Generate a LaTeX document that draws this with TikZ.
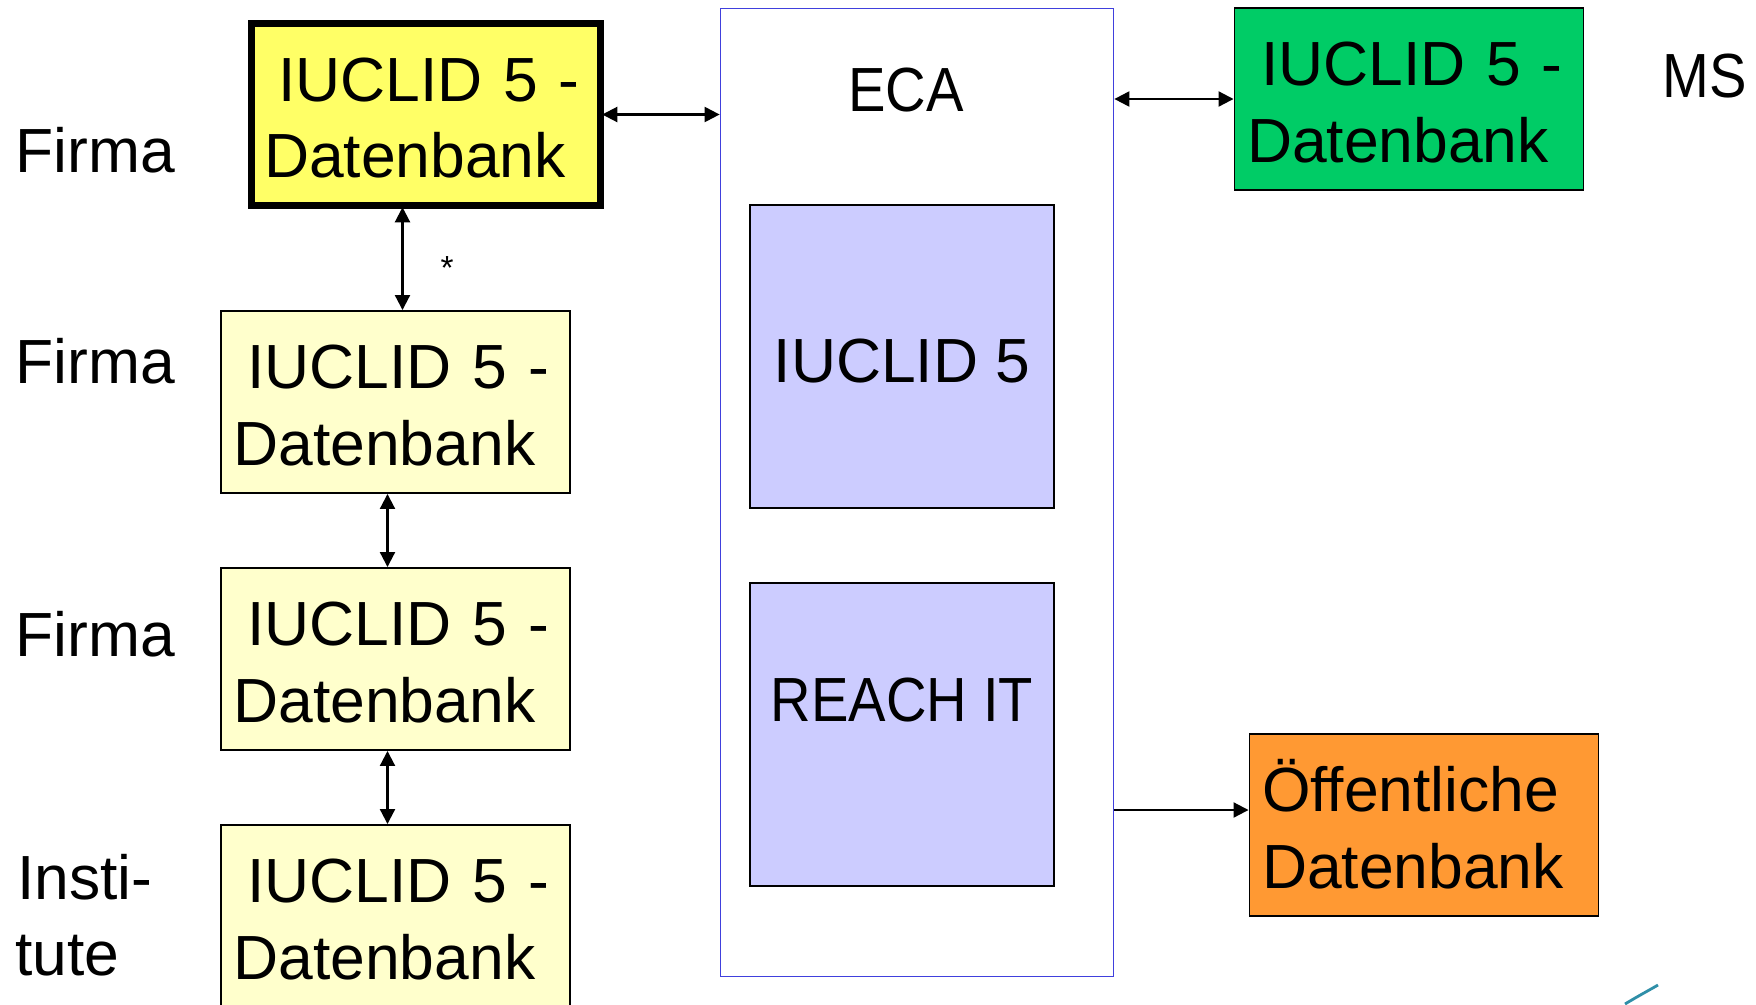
\documentclass[tikz,border=0pt]{standalone}
\usepackage{fontspec}
\setmainfont{Liberation Sans}
\newfontfamily\slimfont[FakeStretch=0.9]{Liberation Sans}
\usetikzlibrary{arrows.meta,calc}
\definecolor{firmyellow}{HTML}{FFFF66}
\definecolor{paleyellow}{HTML}{FFFFCC}
\definecolor{msgreen}{HTML}{00CC66}
\definecolor{puborange}{HTML}{FF9933}
\definecolor{ecablue}{HTML}{4040DD}
\definecolor{itlilac}{HTML}{CCCCFF}
\definecolor{logoteal}{HTML}{2F8FA8}
\tikzset{
  bigtext/.style={font=\fontsize{35.5}{43.6}\selectfont},
  dbbox/.style={bigtext,draw=black,line width=1.1pt,minimum height=3.64cm,
    inner xsep=0.25cm,inner ysep=0pt,text width=6.48cm,text height=0.9cm,text depth=1.44cm,align=left},
  itbox/.style={bigtext,draw=black,line width=1.1pt,fill=itlilac,
    minimum width=6.08cm,minimum height=6.06cm,align=center},
  plainlabel/.style={bigtext,inner sep=0pt,anchor=base west,align=left},
  biarrow/.style={line width=1.2pt,{Triangle[length=0.3cm,width=0.3cm]}-{Triangle[length=0.3cm,width=0.3cm]}},
  onearrow/.style={line width=1.2pt,-{Triangle[length=0.3cm,width=0.3cm]}}
}
\newcommand{\ilead}{\hspace*{0.28cm}}
\begin{document}
\begin{tikzpicture}
\useasboundingbox (0,0) rectangle (35.12,-20.08);
% ECA frame
\node[draw=ecablue,line width=1pt,minimum width=7.86cm,minimum height=19.36cm] (eca) at (18.34,-9.85) {};
\node[bigtext] (ecalabel) at (18.12,-1.8) {\slimfont ECA};
\node[itbox,text height=1.02cm,text depth=0pt] (iuclid) at (18.04,-7.13) {IUCLID 5};
\node[itbox,text height=0.9cm,text depth=1.44cm] (reach) at (18.04,-14.69) {\slimfont REACH IT};
% company databases
\node[dbbox,fill=firmyellow,line width=4.4pt,outer sep=1pt] (dbfirst) at (8.52,-2.29) {\ilead IUCLID 5 -\\Datenbank};
\node[dbbox,fill=paleyellow] (dbsecond) at (7.91,-8.04) {\ilead IUCLID 5 -\\Datenbank};
\node[dbbox,fill=paleyellow] (dbthird) at (7.91,-13.18) {\ilead IUCLID 5 -\\Datenbank};
\node[dbbox,fill=paleyellow] (dbfourth) at (7.91,-18.32) {\ilead IUCLID 5 -\\Datenbank};
% right side
\node[dbbox,fill=msgreen] (dbms) at (28.18,-1.98) {\ilead IUCLID 5 -\\Datenbank};
\node[dbbox,fill=puborange] (dbpublic) at (28.48,-16.5) {Öffentliche\\Datenbank};
% labels
\node[plainlabel] (lfirst) at (0.3,-3.44) {Firma};
\node[plainlabel] (lsecond) at (0.3,-7.66) {Firma};
\node[plainlabel] (lthird) at (0.3,-13.12) {Firma};
\node[plainlabel] (linsti) at (0.34,-17.98) {Insti-};
\node[plainlabel] (ltute) at (0.3,-19.5) {tute};
\node[plainlabel] (lms) at (33.24,-1.94) {\slimfont MS};
\node[font=\fontsize{19}{21}\selectfont,inner sep=0pt] (star) at (8.94,-5.36) {*};
% connectors
\draw[biarrow] (dbfirst.east) -- (dbfirst.east -| eca.west);
\draw[biarrow] (dbms.west -| eca.east) -- (dbms.west);
\draw[onearrow] ([yshift=0.3cm]dbpublic.west -| eca.east) -- ([yshift=0.3cm]dbpublic.west);
\draw[biarrow] ([xshift=0.14cm]dbsecond.north |- dbfirst.south) -- ([xshift=0.14cm]dbsecond.north);
\draw[biarrow] ([xshift=-0.16cm]dbsecond.south) -- ([xshift=-0.16cm]dbthird.north);
\draw[biarrow] ([xshift=-0.16cm]dbthird.south) -- ([xshift=-0.16cm]dbfourth.north);
% logo corner
\draw[logoteal,line width=1.6pt] (32.5,-20.08) .. controls (32.8,-19.9) and (32.9,-19.85) .. (33.16,-19.7);
\end{tikzpicture}
\end{document}
